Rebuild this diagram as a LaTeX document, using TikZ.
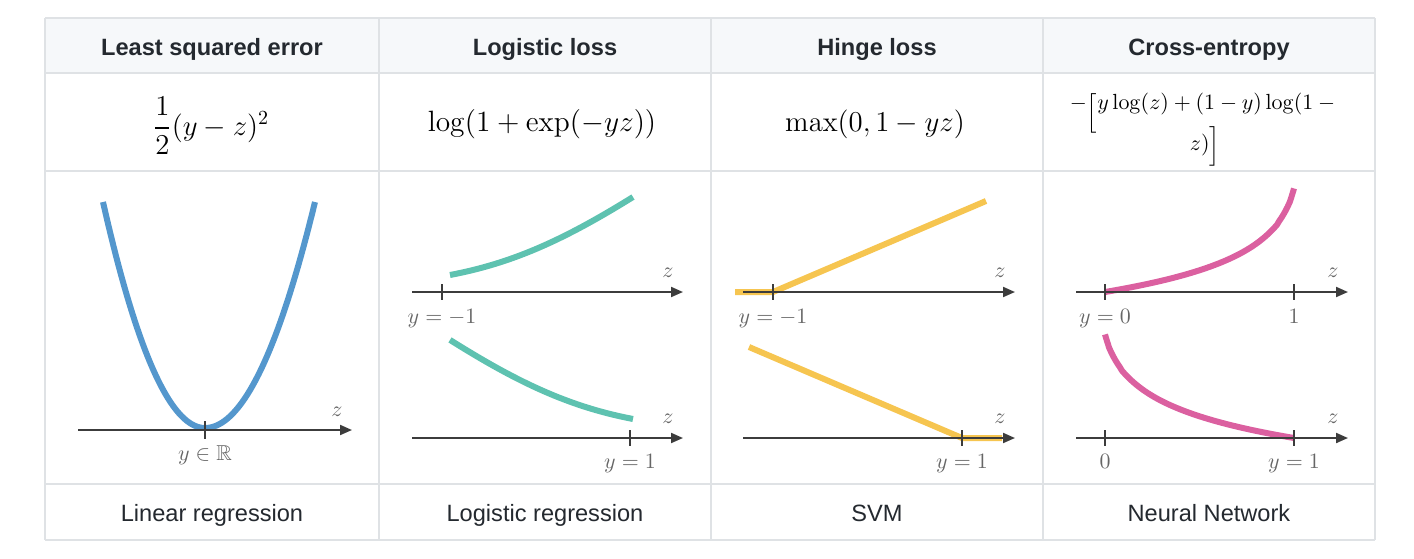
\documentclass[tikz,border=0pt]{standalone}
\usepackage{amsmath,amssymb}
\usepackage[no-math]{fontspec}
\setmainfont{Liberation Sans}
\usetikzlibrary{arrows.meta}
\definecolor{gridc}{HTML}{DFE2E5}
\definecolor{hdrbg}{HTML}{F6F8FA}
\definecolor{txtc}{HTML}{24292F}
\definecolor{axisc}{HTML}{3C3C3C}
\definecolor{lblc}{HTML}{666666}
\definecolor{cblue}{RGB}{84,151,205}
\definecolor{cteal}{RGB}{94,194,176}
\definecolor{cyellow}{RGB}{246,197,80}
\definecolor{cpink}{RGB}{219,96,160}
\begin{document}
\begin{tikzpicture}[x=0.5pt,y=-0.5pt,
  hdr/.style={font=\bfseries\fontsize{11.8}{14}\selectfont, text=txtc, anchor=base, inner sep=0pt},
  foot/.style={font=\fontsize{11.8}{14}\selectfont, text=txtc, anchor=base, inner sep=0pt},
  fml/.style={font=\fontsize{14}{17}\selectfont, text=black, inner sep=0pt},
  fmlsmall/.style={font=\fontsize{11}{13}\selectfont, text=black, inner sep=0pt, anchor=base},
  gridline/.style={draw=gridc, line width=0.6pt},
  axisline/.style={draw=axisc, line width=1pt, -{Triangle[length=6pt,width=5pt]}},
  tickmark/.style={draw=axisc, line width=1pt},
  axlbl/.style={font=\fontsize{10.8}{12}\selectfont, text=lblc, anchor=base, inner sep=0pt},
  curve/.style={line width=3pt}
]
\useasboundingbox (0,0) rectangle (1414,558);
% table
\fill[hdrbg] (45,18) rectangle (1375,73);
\foreach \yy in {18,73,171,484,540} \draw[gridline] (45,\yy) -- (1375,\yy);
\foreach \xx in {45,379,711,1043,1375} \draw[gridline] (\xx,18) -- (\xx,540);
% headers
\node[hdr] (h1) at (212,55) {Least squared error};
\node[hdr] (h2) at (545,55) {Logistic loss};
\node[hdr] (h3) at (877,55) {Hinge loss};
\node[hdr] (h4) at (1209,55) {Cross-entropy};
% formulas
\node[fml] (f1) at (211,126) {$\dfrac{1}{2}(y-z)^2$};
\node[fml] (f2) at (542,124) {\scalebox{1.02}{$\log(1+\exp(-yz))$}};
\node[fml] (f3) at (875,124) {$\max(0,1-yz)$};
\node[fmlsmall] (f4a) at (1205,109) {$-\smash{\raisebox{-5pt}{$\Big[$}}y\log(z)+(1-y)\log(1-{}$};
\node[fmlsmall] (f4b) at (1205,150) {$z)\smash{\raisebox{-1pt}{$\Big]$}}$};
% footers
\node[foot] (b1) at (212,521) {Linear regression};
\node[foot] (b2) at (545,521) {Logistic regression};
\node[foot] (b3) at (877,521) {SVM};
\node[foot] (b4) at (1209,521) {Neural Network};

% ---- column 1 : least squares
\draw[curve, cblue] plot[domain=-102:0,samples=40] ({205+\x},{428-226*(\x/102)*(\x/102)})
   -- plot[domain=0:110,samples=40] ({205+\x},{428-226*(\x/110)*(\x/110)});
\coordinate (a1s) at (78,430); \coordinate (a1e) at (352,430);
\draw[axisline] (a1s) -- (a1e);
\draw[tickmark] (205,421) -- (205,439);
\node[axlbl] (l1) at (205,460) {$y\in\mathbb{R}$};
\node[axlbl] (z1) at (337,416) {$z$};

% ---- column 2 : logistic
\draw[curve, cteal] plot[domain=-1:2,samples=50] ({450+(\x+1)*61},{275-(ln(1+exp(\x))-0.313)*43});
\draw[curve, cteal] plot[domain=-2:1,samples=50] ({450+(\x+2)*61},{419-(ln(1+exp(-1*(\x)))-0.313)*43.6});
\coordinate (a2s) at (412,292); \coordinate (a2e) at (683,292);
\draw[axisline] (a2s) -- (a2e);
\draw[tickmark] (442,284) -- (442,300);
\node[axlbl] (l2a) at (442,323) {$y=-1$};
\node[axlbl] (z2a) at (668,277) {$z$};
\coordinate (a2bs) at (412,438); \coordinate (a2be) at (683,438);
\draw[axisline] (a2bs) -- (a2be);
\draw[tickmark] (630,430) -- (630,446);
\node[axlbl] (l2b) at (630,468) {$y=1$};
\node[axlbl] (z2b) at (668,423) {$z$};

% ---- column 3 : hinge
\draw[curve, cyellow] (735,292) -- (773,292) -- (986,201);
\draw[curve, cyellow] (749,347) -- (962,438) -- (1002,438);
\coordinate (a3s) at (743,292); \coordinate (a3e) at (1015,292);
\draw[axisline] (a3s) -- (a3e);
\draw[tickmark] (773,284) -- (773,300);
\node[axlbl] (l3a) at (773,323) {$y=-1$};
\node[axlbl] (z3a) at (1000,277) {$z$};
\coordinate (a3bs) at (743,438); \coordinate (a3be) at (1015,438);
\draw[axisline] (a3bs) -- (a3be);
\draw[tickmark] (962,430) -- (962,446);
\node[axlbl] (l3b) at (962,468) {$y=1$};
\node[axlbl] (z3b) at (1000,423) {$z$};

% ---- column 4 : cross-entropy
\draw[curve, cpink] plot[domain=0:0.955,samples=90] ({1105+198*\x},{292+33.5*ln(1-\x)});
\draw[curve, cpink] plot[domain=0:0.955,samples=90] ({1294-198*\x},{438+33.5*ln(1-\x)});
\coordinate (a4s) at (1076,292); \coordinate (a4e) at (1348,292);
\draw[axisline] (a4s) -- (a4e);
\draw[tickmark] (1105,284) -- (1105,300);
\draw[tickmark] (1294,284) -- (1294,300);
\node[axlbl] (l4a) at (1105,323) {$y=0$};
\node[axlbl] (l4a1) at (1294,323) {$1$};
\node[axlbl] (z4a) at (1333,277) {$z$};
\coordinate (a4bs) at (1076,438); \coordinate (a4be) at (1348,438);
\draw[axisline] (a4bs) -- (a4be);
\draw[tickmark] (1105,430) -- (1105,446);
\draw[tickmark] (1294,430) -- (1294,446);
\node[axlbl] (l4b0) at (1105,468) {$0$};
\node[axlbl] (l4b) at (1294,468) {$y=1$};
\node[axlbl] (z4b) at (1333,423) {$z$};
\end{tikzpicture}
\end{document}
